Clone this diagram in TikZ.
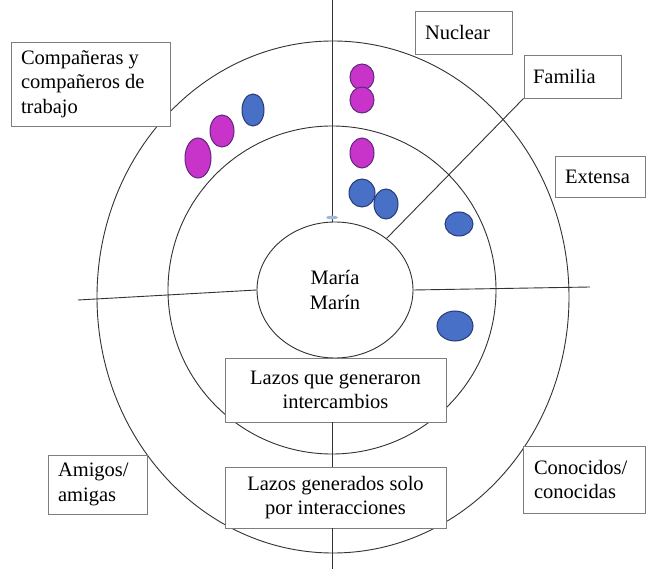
\documentclass[tikz,border=0pt]{standalone}
\usepackage{fontspec}
\setmainfont{Liberation Serif}
\usetikzlibrary{shapes.geometric}
\definecolor{ringc}{RGB}{50,50,55}
\definecolor{boxc}{RGB}{125,125,125}
\definecolor{magf}{RGB}{200,52,202}
\definecolor{magd}{RGB}{95,40,125}
\definecolor{bluf}{RGB}{72,112,198}
\definecolor{blud}{RGB}{38,58,118}
\definecolor{markc}{RGB}{160,185,215}
\begin{document}
\begin{tikzpicture}[x=1pt,y=-1pt,
  ring/.style={draw=ringc,line width=0.9pt},
  conn/.style={draw=ringc,line width=0.9pt},
  lbl/.style={draw=boxc,line width=0.9pt,fill=white,inner sep=0pt,align=flush left,
    font=\fontsize{20.5}{24.5}\selectfont},
  clbl/.style={lbl,align=flush center},
  mdot/.style={ellipse,draw=magd,fill=magf,line width=1pt,inner sep=0pt},
  bdot/.style={ellipse,draw=blud,fill=bluf,line width=1pt,inner sep=0pt}]
\useasboundingbox (0,0) rectangle (646,569);
\fill[white] (0,0) rectangle (646,569);
% rings
\draw[ring] (333,297) ellipse [x radius=236,y radius=256];
\draw[ring] (332,290) circle [radius=164];
\node[ellipse,ring,minimum width=156pt,minimum height=136pt,inner sep=0pt,align=center,
  font=\fontsize{20.5}{24.5}\selectfont] (maria) at (335,290) {María\\Marín};
% coordinates for free line ends
\coordinate (ctop) at (332,0);
\coordinate (cbot) at (332,569);
\coordinate (cleft) at (78,300);
\coordinate (cright) at (590,287);
% label boxes
\node[lbl,minimum width=159pt,minimum height=84pt,text width=139pt] (comp) at (90.5,84)
  {\mbox{Compañeras y}\\\mbox{compañeros de}\\trabajo};
\node[lbl,minimum width=97pt,minimum height=43pt,text width=77pt] (nuc) at (463.5,32.5) {Nuclear};
\node[lbl,minimum width=97pt,minimum height=43pt,text width=79pt] (fam) at (572.5,76.5) {Familia};
\node[lbl,minimum width=90pt,minimum height=41pt,text width=70pt] (ext) at (600,176.5) {Extensa};
\node[clbl,minimum width=221pt,minimum height=64pt,text width=210pt] (laz1) at (335.5,390)
  {\mbox{Lazos que generaron}\\intercambios};
\node[clbl,minimum width=221pt,minimum height=61pt,text width=210pt] (laz2) at (335.5,497.5)
  {\mbox{Lazos generados solo}\\\mbox{por interacciones}};
\node[lbl,minimum width=99pt,minimum height=59pt,text width=79pt] (ami) at (97.5,484.5)
  {Amigos/\\amigas};
\node[lbl,minimum width=122pt,minimum height=67pt,text width=100pt] (con) at (584,479.5)
  {Conocidos/\\conocidas};
% connectors
\draw[conn] (ctop) -- (ctop |- maria.north);
\fill[markc] (332,217.5) ellipse [x radius=6,y radius=1.8];
\draw[conn] (cleft) -- (maria.west);
\draw[conn] (maria.east) -- (cright);
\draw[conn] (fam.south west) -- (maria.45);
\draw[conn] (laz1.south -| ctop) -- (laz2.north -| ctop);
\draw[conn] (laz2.south -| ctop) -- (cbot);
% dots
\node[bdot,minimum width=22pt,minimum height=32pt] (d1) at (253,110) {};
\node[mdot,minimum width=24pt,minimum height=32pt] (d2) at (222,131) {};
\node[mdot,minimum width=26pt,minimum height=40pt] (d3) at (198,158) {};
\node[mdot,minimum width=24pt,minimum height=26pt] (d4) at (362,77) {};
\node[mdot,minimum width=24pt,minimum height=26pt] (d5) at (362,100) {};
\node[mdot,minimum width=24pt,minimum height=30pt] (d6) at (362,153) {};
\node[bdot,minimum width=26pt,minimum height=28pt] (d7) at (362,193) {};
\node[bdot,minimum width=24pt,minimum height=30pt] (d8) at (386,204) {};
\node[bdot,minimum width=28pt,minimum height=24pt] (d9) at (459,224) {};
\node[bdot,minimum width=36pt,minimum height=30pt] (d10) at (455,326) {};
\end{tikzpicture}
\end{document}
